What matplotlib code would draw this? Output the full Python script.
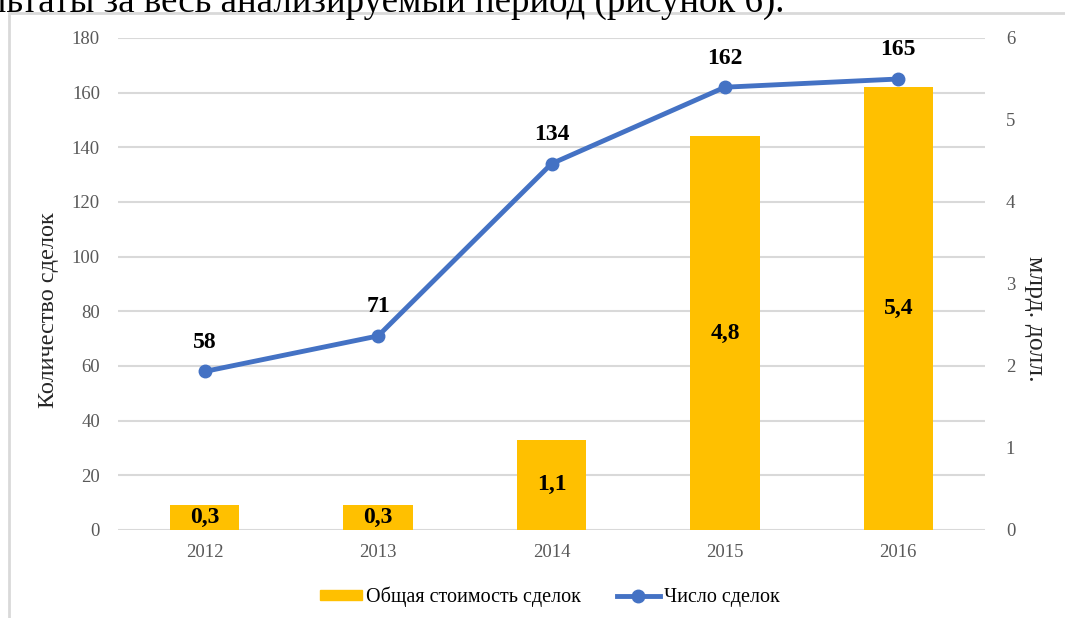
import numpy as np
import matplotlib
matplotlib.use("Agg")
import matplotlib.pyplot as plt
from matplotlib.patches import Rectangle
from matplotlib.lines import Line2D

# Data
years = ["2012", "2013", "2014", "2015", "2016"]
deal_value = [0.3, 0.3, 1.1, 4.8, 5.4]      # млрд. долл. (right axis)
deal_value_labels = ["0,3", "0,3", "1,1", "4,8", "5,4"]
deal_count = [58, 71, 134, 162, 165]        # left axis
left_ticks = list(range(0, 181, 20))
right_ticks = list(range(0, 7))

plt.rcParams['font.family'] = ['Liberation Serif', 'DejaVu Serif']

bar_color = "#FFC000"
line_color = "#4472C4"
grid_color = "#D9D9D9"
tick_color = "#595959"

fig = plt.figure(figsize=(10.65, 6.18), dpi=100)

# cut-off sentence from the page above the chart
fig.text(-0.0113, 0.9806, "льтаты за весь анализируемый период (рисунок 6).",
         fontsize=26.6, va="baseline", ha="left", color="black")

# light frame around the chart
fig.patches.append(Rectangle((9 / 1065, -0.05), 1.1, 1 - 13 / 618 + 0.05,
                             transform=fig.transFigure, fill=False,
                             edgecolor=grid_color, linewidth=2))

ax = fig.add_axes([118 / 1065, 1 - 530 / 618, (985 - 118) / 1065, (530 - 38) / 618])
x = np.arange(len(years))

# left axis: gridlines and ticks
ax.set_xlim(-0.5, len(years) - 0.5)
ax.set_ylim(0, 180)
ax.set_yticks(left_ticks)
ax.yaxis.grid(True, color=grid_color, linewidth=1.5)
ax.set_axisbelow(True)
ax.set_xticks(x)
ax.set_xticklabels(years)
ax.tick_params(axis="both", length=0, labelsize=13.5, colors=tick_color, pad=13)
ax.tick_params(axis="x", pad=10)
for s in ax.spines.values():
    s.set_visible(False)
ax.set_ylabel("Количество сделок", fontsize=17.5, color="#262626", va="center")
ax.yaxis.set_label_coords(-0.0807, 0.447)

# right axis: bars
ax2 = ax.twinx()
ax2.set_ylim(0, 6)
ax2.set_yticks(right_ticks)
bars = ax2.bar(x, deal_value, width=0.4, color=bar_color)
for xi, v, lab in zip(x, deal_value, deal_value_labels):
    ax2.text(xi, v / 2, lab, ha="center", va="center", fontsize=17, fontweight="bold")
ax2.tick_params(axis="y", length=0, labelsize=13.5, colors=tick_color, pad=15)
for s in ax2.spines.values():
    s.set_visible(False)
ax2.set_ylabel("млрд. долл.", fontsize=18.5, color="#262626", rotation=270, va="center")
ax2.yaxis.set_label_coords(1.0577, 0.43)

# line on top, using the left scale
ax3 = ax.twinx()
ax3.set_ylim(0, 180)
ax3.axis("off")
line, = ax3.plot(x, deal_count, color=line_color, linewidth=3.5,
                 marker="o", markersize=9)
for xi, v in zip(x, deal_count):
    ax3.annotate(str(v), (xi, v), xytext=(0, 21), textcoords="offset points",
                 ha="center", va="center", fontsize=17, fontweight="bold")

# legend at the bottom
h_bar = Rectangle((0, 0), 1, 1, color=bar_color)
h_line = Line2D([], [], color=line_color, linewidth=3.5, marker="o", markersize=9)
fig.legend([h_bar, h_line], ["Общая стоимость сделок", "Число сделок"],
           loc="center", bbox_to_anchor=(0.516, 0.034), ncol=2, frameon=False,
           fontsize=14.5, handlelength=2.1, handleheight=0.45, columnspacing=1.8,
           handletextpad=0.2)

fig.savefig("out.png", dpi=100)
